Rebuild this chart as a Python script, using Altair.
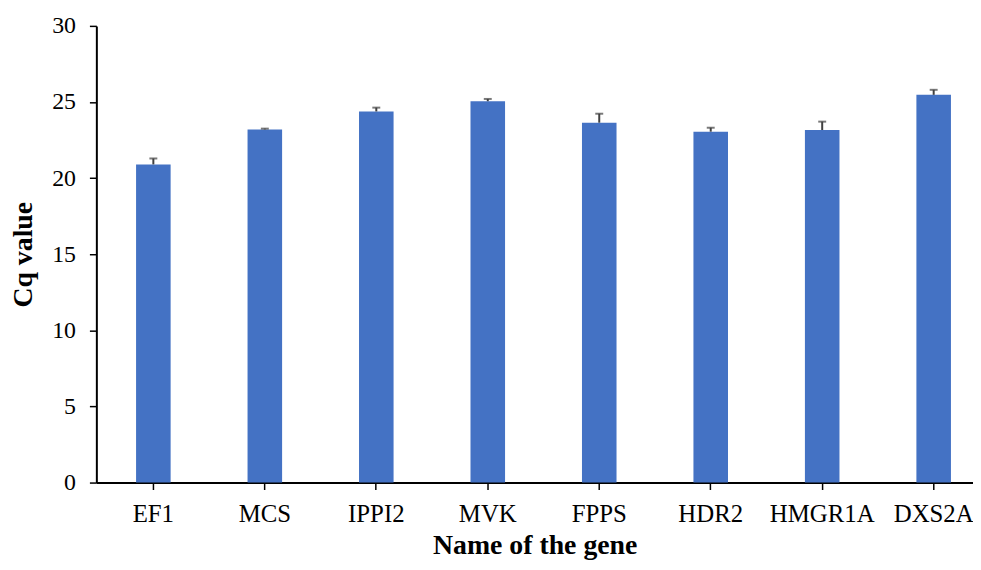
import altair as alt
import pandas as pd

genes = ["EF1", "MCS", "IPPI2", "MVK", "FPPS", "HDR2", "HMGR1A", "DXS2A"]
cq = [20.9, 23.2, 24.38, 25.05, 23.64, 23.05, 23.16, 25.47]
err = [0.39, 0.05, 0.25, 0.15, 0.59, 0.26, 0.55, 0.33]

df = pd.DataFrame({"gene": genes, "cq": cq, "err": err})
df["upper"] = df["cq"] + df["err"]

FONT = "Liberation Serif"

xscale = alt.Scale(domain=genes, paddingInner=0.69, paddingOuter=0.277, align=0.643, round=False)
yscale = alt.Scale(domain=[0, 30], nice=False)

x = alt.X("gene:N", scale=xscale, sort=genes, title="Name of the gene",
          axis=alt.Axis(labelAngle=0, labelFont=FONT, labelFontSize=25, labelColor="#000000",
                        titleFont=FONT, titleFontSize=28, titleFontWeight="bold", titleColor="#000000",
                        domainColor="#000000", domainWidth=2, tickColor="#000000", tickWidth=1.5,
                        tickSize=7, labelPadding=12, titlePadding=5))

bars = alt.Chart(df).mark_bar(color="#4472C4").encode(
    x=x,
    y=alt.Y("cq:Q", scale=yscale, title="Cq value",
            axis=alt.Axis(values=[0, 5, 10, 15, 20, 25, 30], grid=False, labelFont=FONT,
                          labelFontSize=24, labelColor="#000000", titleFont=FONT, titleFontSize=28,
                          titleFontWeight="bold", titleColor="#000000", domainColor="#000000",
                          domainWidth=2, tickColor="#000000", tickWidth=1.5, tickSize=7,
                          labelPadding=14, titlePadding=14)),
)

rule = alt.Chart(df).mark_rule(color="#404040", strokeWidth=2).encode(
    x=alt.X("gene:N", scale=xscale, sort=genes),
    y=alt.Y("cq:Q", scale=yscale),
    y2="upper:Q",
)

cap = alt.Chart(df).mark_tick(color="#404040", thickness=2, size=8).encode(
    x=alt.X("gene:N", scale=xscale, sort=genes),
    y=alt.Y("upper:Q", scale=yscale),
)

chart = alt.layer(bars, rule, cap).properties(
    width=883, height=460,
    autosize=alt.AutoSizeParams(type="none"),
    padding={"left": 89, "top": 16, "right": 0, "bottom": 78},
).configure_view(stroke=None).configure_axis(grid=False)

chart.save("out.html", embed_options={"renderer": "svg", "actions": False})
